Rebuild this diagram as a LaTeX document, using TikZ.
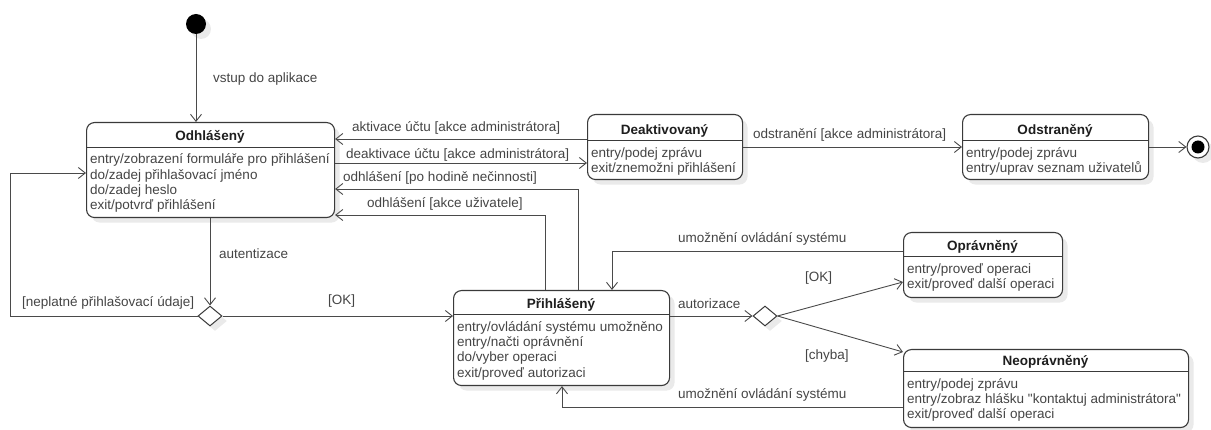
\documentclass[tikz,border=0pt]{standalone}
\usepackage{fontspec}
\setmainfont{Liberation Sans}
\usetikzlibrary{arrows.meta,shapes.geometric,shadows}

\definecolor{boxc}{HTML}{3A3A3A}
\definecolor{linec}{HTML}{4A4A4A}
\definecolor{txtc}{HTML}{454545}
\definecolor{titlec}{HTML}{1E1E1E}
\definecolor{shadowc}{HTML}{EAEAEA}

\newcommand\fsz{\fontsize{13.5}{15.2}\selectfont}
% straight double quote, set as a glyph so the TeX mapping leaves it alone
\newcommand\dq{\XeTeXglyph\XeTeXcharglyph"22\relax}

\tikzset{
  x=1pt, y=-1pt,
  softshadow/.style={drop shadow={shadow xshift=5pt,shadow yshift=-5pt,fill=shadowc,opacity=1}},
  stbox/.style={draw=boxc, line width=1.1pt, rounded corners=8pt, fill=white, inner sep=0, softshadow},
  sepline/.style={draw=boxc, line width=1pt},
  tr/.style={draw=linec, line width=0.9pt, -{Straight Barb[length=7pt,width=11pt,line width=0.9pt]}},
  lbl/.style={anchor=base west, inner sep=0, text=txtc, font=\fsz, yshift=-1.5pt},
  titletxt/.style={anchor=base, inner sep=0, text=titlec, font=\fsz\bfseries},
  bodytxt/.style={anchor=base west, inner sep=0, text=txtc, font=\fsz},
  choice/.style={diamond, draw=boxc, line width=1pt, fill=white, inner sep=0, minimum width=24, minimum height=20, softshadow},
}

% state box: name, left, top, right, bottom, separator y, title, body lines
\newcommand\umlstate[8]{%
  \node[stbox, anchor=north west, minimum width={#4-#2}, minimum height={#5-#3}] (#1) at (#2,#3) {};
  \draw[sepline] (#1.west |- 0,#6) -- (#1.east |- 0,#6);
  \node[titletxt] (#1-title) at ({(#2+#4)/2},#6-6.5) {#7};
  \node[bodytxt] (#1-body) at (#2+4,#6+16.5) {\begin{tabular}[t]{@{}l@{}}#8\end{tabular}};
}

\begin{document}
\begin{tikzpicture}
\useasboundingbox (0,0) rectangle (1211,430);

% states
\umlstate{odhl}{86}{122}{334}{217}{147.5}{Odhlášený}%
  {entry/zobrazení formuláře pro přihlášení\\do/zadej přihlašovací jméno\\do/zadej heslo\\exit/potvrď přihlášení}
\umlstate{deakt}{587}{114}{742}{179}{141}{Deaktivovaný}%
  {entry/podej zprávu\\exit/znemožni přihlášení}
\umlstate{odstr}{962}{114}{1148}{179}{141}{Odstraněný}%
  {entry/podej zprávu\\entry/uprav seznam uživatelů}
\umlstate{prihl}{453}{290}{669}{385}{315}{Přihlášený}%
  {entry/ovládání systému umožněno\\entry/načti oprávnění\\do/vyber operaci\\exit/proveď autorizaci}
\umlstate{opr}{903}{232}{1062}{297}{257}{Oprávněný}%
  {entry/proveď operaci\\exit/proveď další operaci}
\umlstate{neopr}{903}{349}{1188}{427}{372}{Neoprávněný}%
  {entry/podej zprávu\\entry/zobraz hlášku \dq kontaktuj administrátora\dq\\exit/proveď další operaci}

% pseudo states
\node[circle, fill=black, minimum size=20, inner sep=0, softshadow] (init) at (196,24) {};
\node[circle, draw=boxc, line width=1.1pt, fill=white, minimum size=22, inner sep=0, softshadow] (fin) at (1198,147) {};
\node[circle, fill=black, minimum size=13, inner sep=0] (fin-dot) at (fin) {};
\node[choice] (d1) at (210,316) {};
\node[choice] (d2) at (765,316) {};

% transitions
\draw[tr] (init) -- (init |- odhl.north);
\draw[tr] (deakt.west |- 0,139) -- (odhl.east |- 0,139);
\draw[tr] (odhl.east |- 0,163) -- (deakt.west |- 0,163);
\draw[tr] (prihl.north -| 578,0) |- (odhl.east |- 0,189);
\draw[tr] (prihl.north -| 545,0) |- (odhl.east |- 0,215);
\draw[tr] (deakt.east |- 0,147) -- (odstr.west |- 0,147);
\draw[tr] (odstr.east |- fin) -- (fin);
\draw[tr] (odhl.south -| d1) -- (d1.north);
\draw[tr] (d1.west) -| (10,173) -- (odhl.west |- 0,173);
\draw[tr] (d1.east) -- (prihl.west |- d1);
\draw[tr] (prihl.east |- d2) -- (d2.west);
\draw[tr] (d2.east) -- (opr.west |- 0,282);
\draw[tr] (d2.east) -- (neopr.west |- 0,352);
\draw[tr] (opr.west |- 0,251) -| (prihl.north -| 612,0);
\draw[tr] (neopr.west |- 0,407) -| (prihl.south -| 562,0);

% transition labels
\node[lbl] (l-vstup) at (213,81) {vstup do aplikace};
\node[lbl] (l-akt) at (352,130.5) {aktivace účtu [akce administrátora]};
\node[lbl] (l-deakt) at (346,157.5) {deaktivace účtu [akce administrátora]};
\node[lbl] (l-necin) at (343,180.5) {odhlášení [po hodině nečinnosti]};
\node[lbl] (l-uziv) at (367,206) {odhlášení [akce uživatele]};
\node[lbl] (l-odstr) at (753,137.5) {odstranění [akce administrátora]};
\node[lbl] (l-auten) at (219,257.5) {autentizace};
\node[lbl] (l-nepl) at (22,305.5) {[neplatné přihlašovací údaje]};
\node[lbl] (l-ok1) at (328,303.5) {[OK]};
\node[lbl] (l-autor) at (678,307) {autorizace};
\node[lbl] (l-ok2) at (805,280.5) {[OK]};
\node[lbl] (l-chyba) at (805,358.5) {[chyba]};
\node[lbl] (l-umoz1) at (678,241) {umožnění ovládání systému};
\node[lbl] (l-umoz2) at (678,397.5) {umožnění ovládání systému};
\end{tikzpicture}
\end{document}
